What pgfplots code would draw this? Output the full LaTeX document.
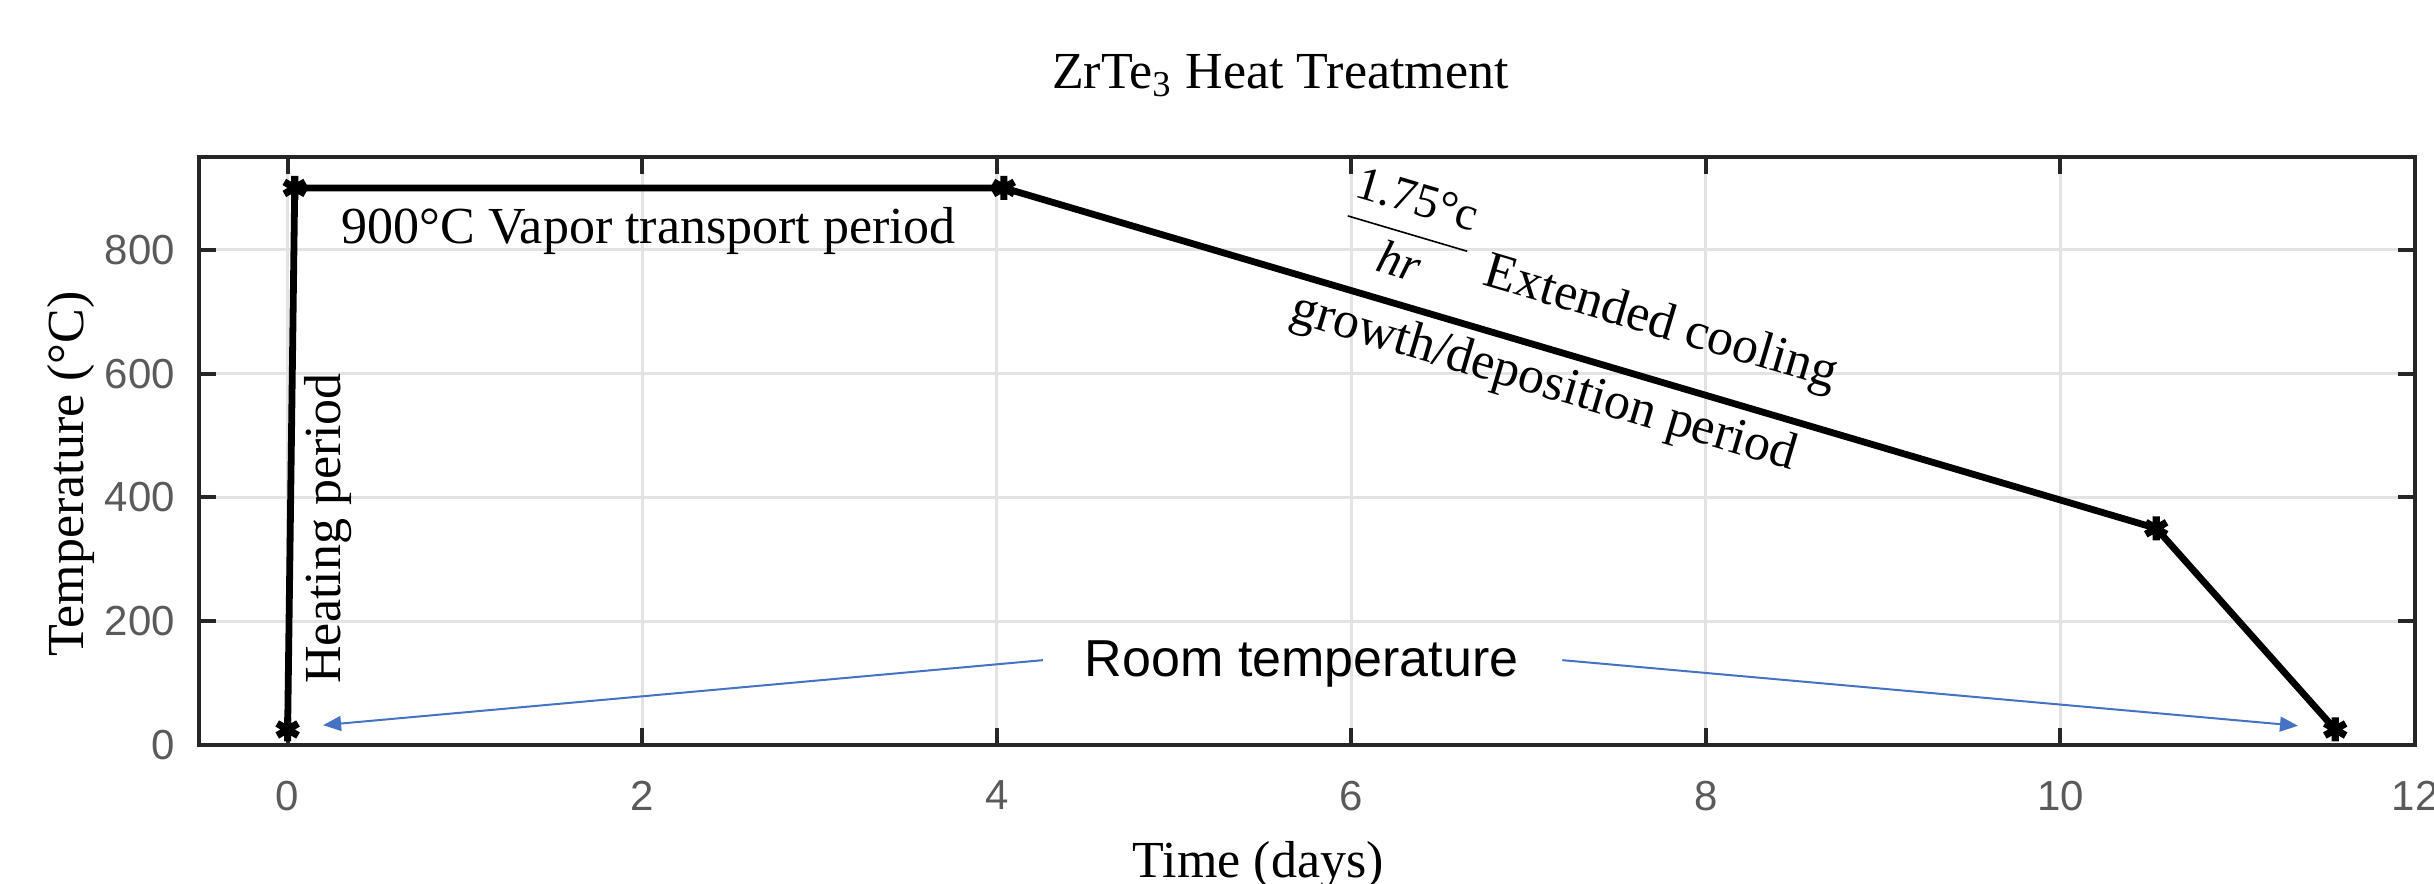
\documentclass[border=0pt]{standalone}
\usepackage{fontspec}
\setmainfont{Liberation Serif}
\newfontfamily\sansarial{Liberation Sans}
\usepackage{pgfplots}
\pgfplotsset{compat=1.18}
\usetikzlibrary{arrows.meta}

\definecolor{axgray}{RGB}{38,38,38}
\definecolor{ticklab}{RGB}{90,90,90}
\definecolor{arrowblue}{RGB}{68,114,196}

\begin{document}
\begin{tikzpicture}
\begin{axis}[
    scale only axis,
    width=554pt, height=147pt,
    xmin=-0.5, xmax=12,
    ymin=0, ymax=950,
    xtick={0,2,...,12},
    ytick={0,200,...,800},
    grid=major, grid style={gray!22, line width=0.7pt},
    axis line style={axgray, line width=1pt},
    tick style={axgray, line width=1pt},
    major tick length=4.2pt,
    tick align=inside,
    /pgf/number format/assume math mode=true,
    ticklabel style={font=\sansarial\fontsize{10.5}{12}\selectfont, text=ticklab},
    xticklabel style={yshift=-5.5pt},
    yticklabel style={xshift=-2.5pt},
    xlabel={Time (days)},
    ylabel={Temperature (°C)},
    xlabel style={at={(axis description cs:0.478,-0.2262)}, anchor=base, font=\fontsize{13}{15}\selectfont},
    ylabel style={at={(axis description cs:-0.0523,0.461)}, anchor=base, font=\fontsize{13}{15}\selectfont},
    title={ZrTe\textsubscript{3} Heat Treatment},
    title style={at={(axis description cs:0.488,1.075)}, anchor=base, font=\fontsize{13}{15}\selectfont},
]
% heat treatment profile
\addplot[black, line width=1.7pt, mark=asterisk, mark size=3pt, mark options={line width=1.8pt}]
coordinates {
    (0,25)
    (0.04,900)
    (4.04,900)
    (10.54,350)
    (11.55,25)
};

\node[inner sep=0pt, anchor=base west, font=\fontsize{13}{15}\selectfont] at (axis cs:0.30,811) {900°C Vapor transport period};
\node[inner sep=0pt, rotate=90, anchor=base, font=\fontsize{13}{15}\selectfont] at (axis cs:0.30,350) {Heating period};
\node[inner sep=0pt, rotate=-16.5, anchor=base, font=\fontsize{13}{15}\selectfont] at (axis cs:7.311,694.7)
    {\raisebox{4pt}{\fontsize{12}{14}\selectfont$\displaystyle\frac{\mbox{1.75°c}}{\mbox{\itshape hr}}$}\hspace{1.5pt} Extended cooling};
\node[inner sep=0pt, rotate=-16.5, anchor=base, font=\fontsize{13}{15}\selectfont] at (axis cs:7.065,564) {growth/deposition period};

\node[inner sep=0pt, anchor=base, font=\sansarial\fontsize{13}{15}\selectfont] at (axis cs:5.72,110) {Room temperature};
\draw[arrowblue, line width=0.5pt, -{Triangle[length=4.5pt,width=3.7pt]}] (axis cs:4.26,137) -- (axis cs:0.20,32);
\draw[arrowblue, line width=0.5pt, -{Triangle[length=4.5pt,width=3.7pt]}] (axis cs:7.19,137) -- (axis cs:11.34,31);
\end{axis}
\pgfresetboundingbox
\path[use as bounding box] ([shift={(-49.75pt,-34.75pt)}]current axis.south west) rectangle ([shift={(4.75pt,39.25pt)}]current axis.north east);
\end{tikzpicture}
\end{document}
